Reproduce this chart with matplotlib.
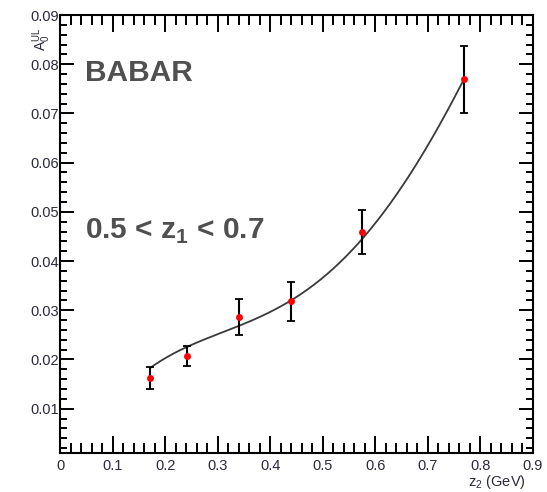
# BABAR asymmetry vs z2, 0.5 < z1 < 0.7
import matplotlib.pyplot as plt
import numpy as np

plt.rcParams['font.family'] = ['Liberation Sans', 'DejaVu Sans']

# measured points
z2 = [0.172, 0.242, 0.340, 0.440, 0.574, 0.769]
asym = [0.0163, 0.0207, 0.0286, 0.0318, 0.0459, 0.0769]
err = [0.0022, 0.0020, 0.0036, 0.0039, 0.0045, 0.0068]

# points
curve_x = [0.172, 0.242, 0.284, 0.340, 0.391, 0.440, 0.549, 0.574, 0.644, 0.707, 0.769]
curve_y = [0.0183, 0.0227, 0.0245, 0.0264, 0.0293, 0.0324, 0.0418, 0.0435, 0.0545, 0.0648, 0.0770]

coef = np.polyfit(curve_x, curve_y, 4)
xs = np.linspace(curve_x[0], curve_x[-1], 200)

fig = plt.figure(figsize=(5.47, 4.92), dpi=100)
ax = fig.add_axes([0.1097, 0.0793, 0.8647, 0.8902])

ax.plot(xs, np.polyval(coef, xs), color='#3a3a3a', lw=1.3, zorder=2)
ax.errorbar(z2, asym, yerr=err, fmt='none', ecolor='black', elinewidth=1.5,
            capsize=3, capthick=1.3, zorder=3)
ax.plot(z2, asym, 'o', color='red', ms=5, mec='none', zorder=4)

ax.set_xlim(0, 0.9)
ax.set_ylim(0.001, 0.09)
ax.set_xticks(np.arange(0, 0.91, 0.1))
ax.set_xticks(np.arange(0, 0.91, 0.02), minor=True)
ax.set_yticks(np.arange(0.01, 0.091, 0.01))
ax.set_yticks(np.arange(0.002, 0.091, 0.002), minor=True)
ax.set_xticklabels(['0', '0.1', '0.2', '0.3', '0.4', '0.5', '0.6', '0.7', '0.8', '0.9'])
ax.set_yticklabels(['0.01', '0.02', '0.03', '0.04', '0.05', '0.06', '0.07', '0.08', '0.09'])

for s in ax.spines.values():
    s.set_linewidth(1.5)
ax.tick_params(axis='both', which='both', direction='in', top=True, right=True,
               width=1.4, labelsize=10.5, labelcolor='#2a2a3a')
ax.tick_params(axis='x', which='major', length=12, pad=4)
ax.tick_params(axis='x', which='minor', length=7)
ax.tick_params(axis='y', which='major', length=10, pad=1)
ax.tick_params(axis='y', which='minor', length=5)

ax.text(0.047, 0.0765, 'BABAR', fontsize=21.5, fontweight='bold', color='#505050')
ax.text(0.047, 0.0445, r'0.5 < z$_\mathregular{1}$ < 0.7', fontsize=21.5,
        fontweight='bold', color='#505050')

fig.text(0.077, 0.945, r'A$_\mathregular{0}^\mathregular{UL}$', rotation=90,
         fontsize=10, color='#2a2a3a', ha='center', va='top')
fig.text(0.909, 0.002, r'z$_\mathregular{2}$ (GeV)', fontsize=10.5,
         color='#2a2a3a', ha='center', va='bottom')

fig.savefig('out.png', dpi=100)
